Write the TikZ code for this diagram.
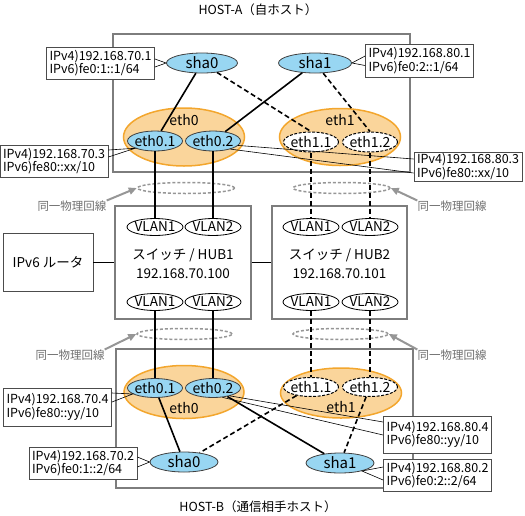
\documentclass[tikz,border=0pt]{standalone}
\usepackage{fontspec}
\setmainfont{Noto Sans CJK JP}
\usepackage{tikz}
\usetikzlibrary{shapes.geometric}
\usetikzlibrary{arrows.meta}

\definecolor{ifblue}{RGB}{152,214,242}
\definecolor{ringfill}{RGB}{250,213,155}
\definecolor{ringdraw}{RGB}{243,166,45}
\definecolor{boxgray}{RGB}{125,125,125}
\definecolor{linegray}{RGB}{150,150,150}
\definecolor{textgray}{RGB}{110,110,110}

\tikzset{
    hostbox/.style={draw=boxgray, line width=1.2pt, inner sep=0pt},
    ethring/.style={ellipse, draw=ringdraw, fill=ringfill, line width=1.5pt, inner sep=0pt},
    ethname/.style={inner sep=0pt, font=\fontsize{14}{16}\selectfont},
    subif/.style={ellipse, draw=black!75, fill=ifblue, line width=0.8pt, inner xsep=-2pt, inner ysep=0pt,
        minimum width=55pt, minimum height=20pt, text height=10pt, text depth=0pt,
        font=\fontsize{14}{16}\selectfont},
    subifoff/.style={subif, fill=white, draw=black, dash pattern=on 3pt off 1.5pt, line width=1pt},
    shanode/.style={ellipse, draw=black!75, fill=ifblue, line width=0.8pt, inner sep=0pt,
        minimum width=70pt, minimum height=20pt, text height=11pt, text depth=0pt,
        font=\fontsize{15}{17}\selectfont},
    vlan/.style={ellipse, draw=black, fill=white, line width=0.8pt, inner xsep=-3pt, inner ysep=0pt,
        minimum width=56pt, minimum height=17pt, text height=9.5pt, text depth=0pt,
        font=\fontsize{13.5}{15}\selectfont},
    addr/.style={draw=black!70, fill=white, line width=0.8pt, align=left, text width=102pt,
        inner xsep=3pt, inner ysep=0pt, font=\fontsize{12.5}{13.5}\selectfont},
    hubtext/.style={inner sep=0pt, font=\fontsize{13.5}{15}\selectfont},
    headline/.style={inner sep=0pt, font=\fontsize{12.5}{14}\selectfont},
    samering/.style={ellipse, draw=linegray, line width=1.5pt, dash pattern=on 3pt off 2pt,
        minimum width=97pt, minimum height=11pt, inner sep=0pt},
    samelabel/.style={inner sep=0pt, text=textgray, font=\fontsize{11.5}{13.5}\selectfont},
    samearrow/.style={draw=linegray, line width=2pt, -{Triangle[length=8pt,width=7pt]}},
    wire/.style={draw=black, line width=1.6pt},
    wiredash/.style={wire, dash pattern=on 5pt off 3pt},
    thinwire/.style={draw=black, line width=1pt},
    callout/.style={draw=black, line width=0.6pt},
}

\begin{document}
\begin{tikzpicture}[x=1pt,y=-1pt]
    \useasboundingbox (0,0) rectangle (525,515);

    \node[headline] (titleA) at (258,10) {HOST-A（自ホスト）};
    \node[hostbox, minimum width=297pt, minimum height=138pt] (hostA) at (261.5,103) {};

    \node[ethring, minimum width=121pt, minimum height=58pt] (eth0A) at (184,137) {};
    \node[ethring, minimum width=121pt, minimum height=57pt] (eth1A) at (340,137) {};
    \node[ethname] (eth0Aname) at (184,120) {eth0};
    \node[ethname] (eth1Aname) at (340,120) {eth1};

    \node[shanode, minimum width=71pt] (sha0A) at (202,63) {sha0};
    \node[shanode, minimum width=73pt] (sha1A) at (315,63) {sha1};

    \node[subif] (eth01A) at (155,141) {eth0.1};
    \node[subif] (eth02A) at (213,141) {eth0.2};
    \node[subifoff] (eth11A) at (311,142) {eth1.1};
    \node[subifoff] (eth12A) at (370,142) {eth1.2};

    \node[addr, minimum height=32pt] (sha0Aaddr) at (100.5,63) {IPv4)192.168.70.1\\IPv6)fe0:1::1/64};
    \node[addr, minimum height=33pt] (sha1Aaddr) at (419.5,60.5) {IPv4)192.168.80.1\\IPv6)fe0:2::1/64};
    \node[addr, minimum height=32pt] (eth01Aaddr) at (54,161) {IPv4)192.168.70.3\\IPv6)fe80::xx/10};
    \node[addr, minimum height=29pt] (eth02Aaddr) at (468,166.5) {IPv4)192.168.80.3\\IPv6)fe80::xx/10};

    \node[samering] (ringA0) at (186,188) {};
    \node[samering] (ringA1) at (341.5,188) {};
    \node[samelabel] (sameA0) at (72,206) {同一物理回線};
    \node[samelabel] (sameA1) at (452,206) {同一物理回線};

    \node[hostbox, minimum width=136pt, minimum height=113pt] (hub1) at (183,262.5) {};
    \node[hostbox, minimum width=135pt, minimum height=113pt] (hub2) at (339.5,262.5) {};
    \node[hubtext] (hub1name) at (183,255) {スイッチ / HUB1};
    \node[hubtext] (hub1ip) at (183,274) {192.168.70.100};
    \node[hubtext] (hub2name) at (339.5,255) {スイッチ / HUB2};
    \node[hubtext] (hub2ip) at (339.5,274) {192.168.70.101};

    \node[vlan] (v1up) at (155,227) {VLAN1};
    \node[vlan] (v2up) at (213,227) {VLAN2};
    \node[vlan] (v3up) at (311,227) {VLAN1};
    \node[vlan] (v4up) at (370,227) {VLAN2};
    \node[vlan] (v1dn) at (155,302) {VLAN1};
    \node[vlan] (v2dn) at (213,302) {VLAN2};
    \node[vlan] (v3dn) at (311,302) {VLAN1};
    \node[vlan] (v4dn) at (370,302) {VLAN2};

    \node[draw=black!70, line width=0.9pt, minimum width=90pt, minimum height=58pt, inner sep=0pt,
        font=\fontsize{13.5}{15}\selectfont] (router) at (48,262.5) {IPv6 ルータ};

    \node[samering, minimum width=95pt] (ringB0) at (184.5,334) {};
    \node[samering, minimum width=95pt] (ringB1) at (340.5,334) {};
    \node[samelabel] (sameB0) at (70,355) {同一物理回線};
    \node[samelabel] (sameB1) at (452,355) {同一物理回線};

    \node[hostbox, minimum width=297pt, minimum height=139pt] (hostB) at (264.5,418.5) {};

    \node[ethring, minimum width=120pt, minimum height=53pt] (eth0B) at (184,392) {};
    \node[ethring, minimum width=121pt, minimum height=50pt] (eth1B) at (341,393) {};
    \node[ethname] (eth0Bname) at (184,408) {eth0};
    \node[ethname] (eth1Bname) at (341,407) {eth1};

    \node[subif, minimum height=19pt] (eth01B) at (155,388) {eth0.1};
    \node[subif, minimum height=19pt] (eth02B) at (213,388) {eth0.2};
    \node[subifoff, minimum height=19pt] (eth11B) at (311,387) {eth1.1};
    \node[subifoff, minimum height=19pt] (eth12B) at (370,387) {eth1.2};

    \node[shanode, minimum width=68pt] (sha0B) at (184,462) {sha0};
    \node[shanode, minimum width=68pt] (sha1B) at (340,463) {sha1};

    \node[addr, minimum height=38pt] (eth01Baddr) at (57.5,407) {IPv4)192.168.70.4\\IPv6)fe80::yy/10};
    \node[addr, minimum height=32pt] (sha0Baddr) at (83,463) {IPv4)192.168.70.2\\IPv6)fe0:1::2/64};
    \node[addr, minimum height=37pt] (eth02Baddr) at (437.5,434.5) {IPv4)192.168.80.4\\IPv6)fe80::yy/10};
    \node[addr, minimum height=32pt] (sha1Baddr) at (437.5,475) {IPv4)192.168.80.2\\IPv6)fe0:2::2/64};

    \node[headline] (titleB) at (258,507) {HOST-B（通信相手ホスト）};

    \draw[samearrow] (sameA0.north east) -- (ringA0.west);
    \draw[samearrow] (sameA1.north west) -- (ringA1.east);
    \draw[samearrow] (sameB0.north east) -- (ringB0.west);
    \draw[samearrow] (sameB1.north west) -- (ringB1.east);

    \draw[wire] (sha0A) -- (eth01A);
    \draw[wire] (sha1A) -- (eth02A);
    \draw[wiredash] (sha0A) -- (eth11A.north);
    \draw[wiredash] (sha1A) -- (eth12A.north);

    \draw[wire] (eth01A) -- (v1up);
    \draw[wire] (eth02A) -- (v2up);
    \draw[wiredash] (eth11A) -- (v3up);
    \draw[wiredash] (eth12A) -- (v4up);

    \draw[wire] (v1dn) -- (eth01B);
    \draw[wire] (v2dn) -- (eth02B);
    \draw[wiredash] (v3dn) -- (eth11B);
    \draw[wiredash] (v4dn) -- (eth12B);

    \draw[wire] (eth01B) -- (sha0B);
    \draw[wire] (eth02B) -- (sha1B);
    \draw[wiredash] (eth11B) -- (sha0B);
    \draw[wiredash] (eth12B) -- (sha1B);

    \draw[thinwire] (router) -- (hub1);
    \draw[thinwire] (hub1) -- (hub2);

    \draw[callout] ([yshift=4pt]sha0Aaddr.east) -- (sha0A.west) -- ([yshift=-4pt]sha0Aaddr.east);
    \draw[callout] ([yshift=4.5pt]sha1Aaddr.west) -- (sha1A.east) -- ([yshift=-5pt]sha1Aaddr.west);
    \draw[callout] ([yshift=11pt]eth01Aaddr.east) -- (eth01A.200) -- ([yshift=4pt]eth01Aaddr.east);
    \draw[callout] (eth02A.-10) -- ([yshift=7.5pt]eth02Aaddr.west);
    \draw[callout] (eth02A.-25) -- ([yshift=-6.5pt]eth02Aaddr.west);
    \draw[callout] ([yshift=14pt]eth01Baddr.east) -- (eth01B.195) -- ([yshift=5pt]eth01Baddr.east);
    \draw[callout] ([yshift=6pt]sha0Baddr.east) -- (sha0B.west) -- ([yshift=-4pt]sha0Baddr.east);
    \draw[callout] (eth02B.-25) -- ([yshift=12.5pt]eth02Baddr.west);
    \draw[callout] (eth02B.-45) -- ([yshift=-0.5pt]eth02Baddr.west);
    \draw[callout] ([yshift=8pt]sha1Baddr.west) -- (sha1B.-20) -- ([yshift=-5pt]sha1Baddr.west);
\end{tikzpicture}
\end{document}
